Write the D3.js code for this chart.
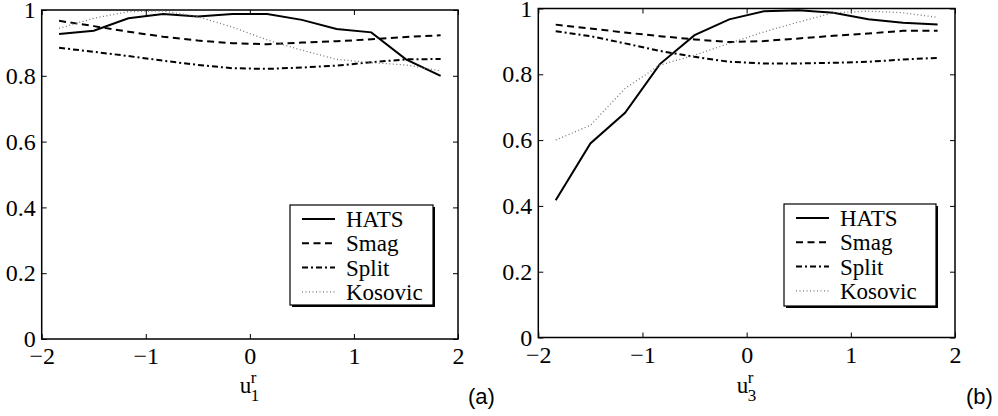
<!DOCTYPE html>
<html>
<head>
<meta charset="utf-8">
<script src="https://cdn.jsdelivr.net/npm/d3@7"></script>
<style>
  body { margin: 0; background: #fff; }
  svg { display: block; }
  svg text { font-family: 'Liberation Serif', 'Times New Roman', Times, serif; }
  svg text.tag { font-family: 'Liberation Sans', Arial, Helvetica, sans-serif; }
</style>
</head>
<body>
<div id="chart"></div>
<script>
const xVals = [-1.833, -1.5, -1.167, -0.833, -0.5, -0.167, 0.167, 0.5, 0.833, 1.167, 1.5, 1.833];
const xTicks = [-2, -1, 0, 1, 2];
const yTicks = [0, 0.2, 0.4, 0.6, 0.8, 1];
const seriesNames = ['HATS', 'Smag', 'Split', 'Kosovic'];

// panel (a), u1
const hatsA = [0.927, 0.937, 0.975, 0.988, 0.980, 0.988, 0.988, 0.970, 0.942, 0.932, 0.850, 0.800];
const smagA = [0.967, 0.951, 0.934, 0.919, 0.907, 0.899, 0.896, 0.901, 0.905, 0.911, 0.918, 0.923];
const splitA = [0.885, 0.873, 0.860, 0.846, 0.833, 0.823, 0.821, 0.825, 0.831, 0.841, 0.850, 0.851];
const kosovicA = [0.944, 0.975, 0.995, 0.997, 0.980, 0.948, 0.909, 0.878, 0.850, 0.840, 0.833, 0.815];

// panel (b), u3
const hatsB = [0.417, 0.590, 0.683, 0.831, 0.919, 0.967, 0.992, 0.995, 0.987, 0.967, 0.957, 0.951];
const smagB = [0.951, 0.939, 0.927, 0.916, 0.906, 0.898, 0.901, 0.909, 0.917, 0.924, 0.932, 0.932];
const splitB = [0.931, 0.916, 0.894, 0.871, 0.853, 0.838, 0.833, 0.833, 0.835, 0.838, 0.845, 0.850];
const kosovicB = [0.600, 0.645, 0.757, 0.828, 0.858, 0.894, 0.929, 0.959, 0.987, 0.992, 0.987, 0.973];

const styles = {
  HATS: { dash: null, color: '#000', width: 2 },
  Smag: { dash: '7,4.5', color: '#000', width: 2 },
  Split: { dash: '6,3,2,3', color: '#000', width: 2 },
  Kosovic: { dash: '1,2.5', color: '#777', width: 1.3 }
};

const svg = d3.select('#chart').append('svg')
  .attr('width', 998)
  .attr('height', 416);

const drawPanel = (opt) => {
  const x = d3.scaleLinear().domain([-2, 2]).range([opt.left, opt.right]);
  const y = d3.scaleLinear().domain([0, 1]).range([opt.bottom, opt.top]);
  const g = svg.append('g');

  const styleAxis = (ax) => {
    ax.attr('font-family', null).attr('font-size', null);
    ax.select('.domain').remove();
    ax.selectAll('line').attr('stroke', '#000').attr('stroke-width', 1);
    ax.selectAll('text').style('font-size', '24px').attr('fill', '#000');
  };

  g.append('g').attr('transform', `translate(0,${opt.bottom})`)
    .call(d3.axisBottom(x).tickValues(xTicks).tickFormat(d3.format('d')).tickSizeInner(-5).tickSizeOuter(0).tickPadding(8))
    .call(styleAxis);
  g.append('g').attr('transform', `translate(0,${opt.top})`)
    .call(d3.axisTop(x).tickValues(xTicks).tickFormat('').tickSizeInner(-5).tickSizeOuter(0))
    .call(styleAxis);
  g.append('g').attr('transform', `translate(${opt.left},0)`)
    .call(d3.axisLeft(y).tickValues(yTicks).tickFormat(d3.format('~g')).tickSizeInner(-5).tickSizeOuter(0).tickPadding(6))
    .call(styleAxis);
  g.append('g').attr('transform', `translate(${opt.right},0)`)
    .call(d3.axisRight(y).tickValues(yTicks).tickFormat('').tickSizeInner(-5).tickSizeOuter(0))
    .call(styleAxis);

  g.append('rect')
    .attr('x', opt.left).attr('y', opt.top)
    .attr('width', opt.right - opt.left).attr('height', opt.bottom - opt.top)
    .attr('fill', 'none').attr('stroke', '#000').attr('stroke-width', 1.5);

  const line = d3.line().x((d, i) => x(xVals[i])).y(d => y(d));
  opt.series.forEach((vals, k) => {
    const s = styles[seriesNames[k]];
    g.append('path').datum(vals)
      .attr('d', line)
      .attr('fill', 'none')
      .attr('stroke', s.color)
      .attr('stroke-width', s.width)
      .attr('stroke-dasharray', s.dash);
  });

  // x label u^r_n
  const cx = (opt.left + opt.right) / 2;
  g.append('text').attr('x', cx - 10).attr('y', 393)
    .style('font-size', '23px').text('u');
  g.append('text').attr('x', cx + 1).attr('y', 383)
    .style('font-size', '17px').text('r');
  g.append('text').attr('x', cx + 1).attr('y', 401)
    .style('font-size', '17px').text(opt.sub);

  // panel tag
  g.append('text').attr('class', 'tag').attr('x', opt.tagX).attr('y', 404)
    .style('font-size', '22px')
    .text(opt.tag);

  // legend
  const lg = g.append('g');
  lg.append('rect').attr('x', opt.lx + 2).attr('y', opt.ly + 2)
    .attr('width', opt.lw).attr('height', opt.lh).attr('fill', '#000');
  lg.append('rect').attr('x', opt.lx).attr('y', opt.ly)
    .attr('width', opt.lw).attr('height', opt.lh)
    .attr('fill', '#fff').attr('stroke', '#000').attr('stroke-width', 1.2);
  seriesNames.forEach((name, k) => {
    const s = styles[name];
    const yy = opt.ly + 14 + k * 24.3;
    lg.append('line')
      .attr('x1', opt.lx + 12).attr('x2', opt.lx + 45)
      .attr('y1', yy).attr('y2', yy)
      .attr('stroke', s.color).attr('stroke-width', s.width)
      .attr('stroke-dasharray', s.dash);
    lg.append('text').attr('x', opt.lx + 56).attr('y', yy + 8)
      .style('font-size', '23px').text(name);
  });
};

drawPanel({
  left: 41.7, right: 458, top: 10, bottom: 339,
  series: [hatsA, smagA, splitA, kosovicA],
  sub: '1', tag: '(a)', tagX: 468,
  lx: 290, ly: 205, lw: 143, lh: 100
});

drawPanel({
  left: 538.3, right: 955, top: 8.5, bottom: 337.5,
  series: [hatsB, smagB, splitB, kosovicB],
  sub: '3', tag: '(b)', tagX: 966,
  lx: 784, ly: 204, lw: 152, lh: 102
});
</script>
</body>
</html>
